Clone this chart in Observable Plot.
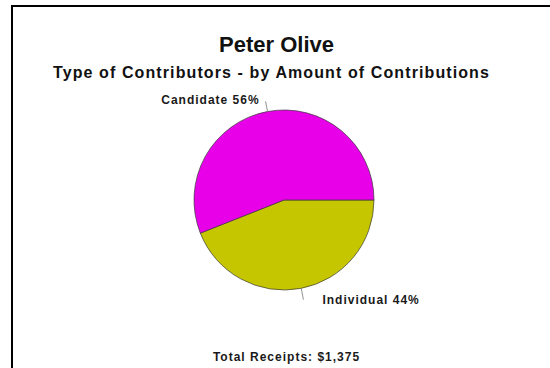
<!DOCTYPE html>
<html>
<head>
<meta charset="utf-8">
<script src="https://cdn.jsdelivr.net/npm/d3@7"></script>
<script src="https://cdn.jsdelivr.net/npm/@observablehq/plot@0.6"></script>
<style>
  html, body { margin: 0; padding: 0; background: #fff; overflow: hidden; }
  #wrap { position: relative; width: 550px; height: 368px; }
  #border { position: absolute; left: 11px; top: 5px; width: 560px; height: 400px;
            border-left: 2px solid #000; border-top: 2px solid #000; pointer-events: none; }
</style>
</head>
<body>
<div id="wrap"><div id="border"></div></div>
<script>
// ---- data ----
const titleText = "Peter Olive";
const subtitleText = "Type of Contributors - by Amount of Contributions";
const captionText = "Total Receipts: $1,375";
const categories = ["Individual", "Candidate"];
const percents = [44, 56];
const sliceColors = ["#c6c600", "#e800e8"];

// ---- layout ----
const W = 550, H = 368;
const CX = 284, CY = 200, R = 90, LEAD = 11;

const arcs = d3.pie().sort(null)
  .startAngle(Math.PI / 2).endAngle(Math.PI / 2 + 2 * Math.PI)(percents);

const labelRows = arcs.map((a, i) => {
  const mid = (a.startAngle + a.endAngle) / 2;
  const s = Math.sin(mid), c = -Math.cos(mid);
  return {
    label: `${categories[i]} ${percents[i]}%`,
    x1: CX + R * s, y1: CY + R * c,
    x2: CX + (R + LEAD) * s, y2: CY + (R + LEAD) * c,
    left: s < 0
  };
});

function pieMark(index, scales) {
  const g = d3.create("svg:g").attr("aria-label", "pie");
  const x = scales.x, y = scales.y;
  const cx = x(CX), cy = y(CY), r = x(CX + R) - x(CX);
  const arc = d3.arc().innerRadius(0).outerRadius(r);
  g.selectAll("path").data(arcs).join("path")
    .attr("transform", `translate(${cx},${cy})`)
    .attr("d", arc)
    .attr("fill", (d, i) => sliceColors[i])
    .attr("stroke", "#3a3a3a")
    .attr("stroke-width", 0.7);
  return g.node();
}

const font = "'Liberation Sans', Arial, Helvetica, sans-serif";

const chart = Plot.plot({
  width: W, height: H,
  margin: 0,
  x: { domain: [0, W], range: [0, W], axis: null },
  y: { domain: [0, H], range: [0, H], axis: null },
  marks: [
    pieMark,
    Plot.link(labelRows, { x1: "x1", y1: "y1", x2: "x2", y2: "y2", stroke: "#777", strokeWidth: 0.8 }),
    Plot.text(labelRows.filter(d => d.left), {
      x: "x2", y: "y2", text: "label", textAnchor: "end", dx: -6, dy: -1,
      fontSize: 12, fontWeight: "bold", fontFamily: font, fill: "#1a1a1a"
    }),
    Plot.text(labelRows.filter(d => !d.left), {
      x: "x2", y: "y2", text: "label", textAnchor: "start", dx: 19, dy: 0,
      fontSize: 12, fontWeight: "bold", fontFamily: font, fill: "#1a1a1a"
    }),
    Plot.text([titleText], {
      x: [276], y: [44], text: d => d,
      fontSize: 22, fontWeight: "bold", fontFamily: font, fill: "#111"
    }),
    Plot.text([subtitleText], {
      x: [271], y: [72], text: d => d,
      fontSize: 16, fontWeight: "bold", fontFamily: font, fill: "#111"
    }),
    Plot.text([captionText], {
      x: [286], y: [357], text: d => d,
      fontSize: 12, fontWeight: "bold", fontFamily: font, fill: "#1a1a1a"
    })
  ]
});

// letter spacing to match the wide lettering of the original
const smallTexts = new Set([...labelRows.map(d => d.label), captionText]);
d3.select(chart).selectAll("text").each(function () {
  const t = this.textContent;
  if (smallTexts.has(t)) this.style.letterSpacing = "1px";
  else if (t === subtitleText) this.style.letterSpacing = "1.1px";
});

chart.style.position = "absolute";
chart.style.left = "0px";
chart.style.top = "0px";
chart.style.background = "transparent";
document.getElementById("wrap").prepend(chart);
</script>
</body>
</html>
